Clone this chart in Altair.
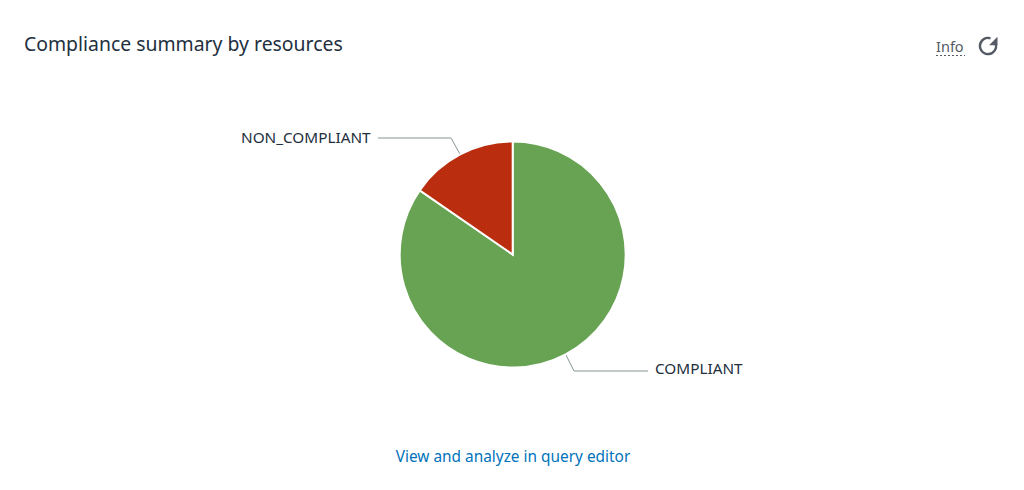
import altair as alt
import pandas as pd

categories = ["COMPLIANT", "NON_COMPLIANT"]
values = [11, 2]
order = [1, 2]
colors = ["#67a353", "#ba2e0f"]

FONT = "Noto Sans"
OX, OY = 8, 8  # page margin


def px(v):
    return alt.value(v - OX)


def py(v):
    return alt.value(v - OY)


pie_df = pd.DataFrame({"status": categories, "count": values, "order": order})
pie = alt.Chart(pie_df).mark_arc(
    outerRadius=113, stroke="white", strokeWidth=2
).encode(
    theta=alt.Theta("count:Q", stack=True),
    order=alt.Order("order:Q"),
    color=alt.Color("status:N", scale=alt.Scale(domain=categories, range=colors), legend=None),
    x=px(512.7),
    y=py(254.5),
)


def text(label, x, y, size, color, align="left"):
    return alt.Chart(pd.DataFrame({"t": [label]})).mark_text(
        font=FONT, fontSize=size, color=color, align=align, baseline="alphabetic"
    ).encode(text="t:N", x=px(x), y=py(y))


def seg(x1, y1, x2, y2, color="#879596", width=1, dash=None):
    kw = {"strokeDash": dash} if dash else {}
    return alt.Chart(pd.DataFrame({"a": [0]})).mark_rule(
        color=color, strokeWidth=width, **kw
    ).encode(x=px(x1), x2=px(x2), y=py(y1), y2=py(y2))


icon_arc = alt.Chart(pd.DataFrame({"a": [0]})).mark_arc(
    radius=9.3, radius2=6.9, theta=1.25, theta2=6.6, color="#545b64"
).encode(x=px(988), y=py(46))
icon_head = alt.Chart(pd.DataFrame({"a": [0]})).mark_point(
    shape="M1,-1L1,1L-1,1Z", filled=True, size=70, color="#545b64", opacity=1
).encode(x=px(993.3), y=py(41))

chart = alt.layer(
    seg(378, 138, 451, 138),
    seg(451, 138, 461, 156),
    seg(648, 371, 574, 371),
    seg(574, 371, 566, 355),
    pie,
    text("Compliance summary by resources", 24, 51, 19.4, "#232f3e"),
    text("Info", 936, 52, 14.5, "#545b64"),
    seg(936, 55.5, 965, 55.5, color="#545b64", dash=[2, 2]),
    icon_arc,
    icon_head,
    text("NON_COMPLIANT", 241, 143, 15.3, "#232f3e"),
    text("COMPLIANT", 655, 374, 15.3, "#232f3e"),
    text("View and analyze in query editor", 513, 462, 15.4, "#0073bb", align="center"),
).properties(
    width=1008,
    height=474,
    padding=0,
    autosize=alt.AutoSizeParams(type="none"),
    background="white",
).configure_view(stroke=None)

chart.save("out.html", embed_options={"renderer": "svg", "actions": False})
